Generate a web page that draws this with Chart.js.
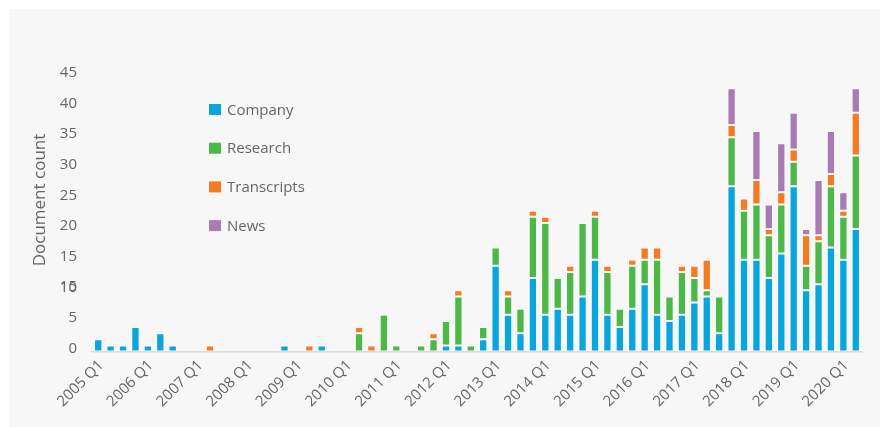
<!DOCTYPE html>
<html>
<head>
<meta charset="utf-8">
<script src="https://cdn.jsdelivr.net/npm/chart.js@4.4.1/dist/chart.umd.min.js"></script>
<style>
  html, body { margin: 0; padding: 0; background: #ffffff; }
  #panel { position: absolute; left: 9px; top: 9px; width: 871px; height: 418px; background: #f7f7f7; }
  canvas { display: block; }
</style>
</head>
<body>
<div id="panel"><canvas id="c" width="871" height="418"></canvas></div>
<script>
const years = [2005,2006,2007,2008,2009,2010,2011,2012,2013,2014,2015,2016,2017,2018,2019,2020];
const quarters = ['Q1','Q2','Q3','Q4'];
const categories = [];
years.forEach(y => quarters.forEach(q => { if (categories.length < 62) categories.push(y + ' ' + q); }));

const company = [2,1,1,4,1,3,1,0,0,0,0,0,0,0,0,1,0,0,1,0,
  0,0,0,0,0,0,0,0,1,1,0,2,14,6,3,12,6,7,6,9,
  15,6,4,7,11,6,5,6,8,9,3,27,15,15,12,16,27,10,11,17,
  15,20];
const research = [0,0,0,0,0,0,0,0,0,0,0,0,0,0,0,0,0,0,0,0,
  0,3,0,6,1,0,1,2,4,8,1,2,3,3,4,10,15,5,7,12,
  7,7,3,7,4,9,4,7,4,1,6,8,8,9,7,8,4,4,7,10,
  7,12];
const transcripts = [0,0,0,0,0,0,0,0,0,1,0,0,0,0,0,0,0,1,0,0,
  0,1,1,0,0,0,0,1,0,1,0,0,0,1,0,1,1,0,1,0,
  1,1,0,1,2,2,0,1,2,5,0,2,2,4,1,2,2,5,1,2,
  1,7];
const news = [0,0,0,0,0,0,0,0,0,0,0,0,0,0,0,0,0,0,0,0,
  0,0,0,0,0,0,0,0,0,0,0,0,0,0,0,0,0,0,0,0,
  0,0,0,0,0,0,0,0,0,0,0,6,0,8,4,8,6,1,9,7,
  3,4];
const seriesNames = ['Company','Research','Transcripts','News'];
const seriesColors = ['#09a6de','#4cb848','#f57a24','#a97bb5'];
const yTicks = [0,5,10,15,20,25,30,35,40,45];
const yTitle = 'Document count';

const FONT = '"Open Sans", "Noto Sans", sans-serif';
const TEXT = '#666666';

const overlay = {
  id: 'overlay',
  afterDraw(chart) {
    const ctx = chart.ctx;
    const ys = chart.scales.y;
    ctx.save();
    ctx.fillStyle = TEXT;
    ctx.font = '17px ' + FONT;
    ctx.textAlign = 'center';
    ctx.textBaseline = 'middle';
    ctx.translate(31, 191);
    ctx.rotate(-Math.PI / 2);
    ctx.fillText(yTitle, 0, 0);
    ctx.restore();

    // overlapped tick label as in the reference
    ctx.save();
    ctx.fillStyle = TEXT;
    ctx.font = '15px ' + FONT;
    ctx.textAlign = 'right';
    ctx.textBaseline = 'middle';
    ctx.fillText('15', ys.left + ys.width - 15, ys.getPixelForValue(10) - 4);
    ctx.restore();

    // legend
    ctx.save();
    chart.data.datasets.forEach((ds, i) => {
      const y = 95 + i * 38.7;
      ctx.fillStyle = ds.backgroundColor;
      ctx.fillRect(200, y, 12, 11);
      ctx.fillStyle = TEXT;
      ctx.font = '15px ' + FONT;
      ctx.textAlign = 'left';
      ctx.textBaseline = 'middle';
      ctx.fillText(ds.label, 218, y + 6.5);
    });
    ctx.restore();
  }
};

const seriesData = [company, research, transcripts, news];
new Chart(document.getElementById('c'), {
  type: 'bar',
  data: {
    labels: categories,
    datasets: seriesNames.map((n, i) => ({
      label: n,
      data: seriesData[i],
      backgroundColor: seriesColors[i],
      borderColor: 'rgba(255,255,255,0.45)',
      borderWidth: c => (c.raw ? 1 : 0),
      borderSkipped: false,
      categoryPercentage: 1,
      barPercentage: 0.67
    }))
  },
  options: {
    responsive: false,
    animation: false,
    layout: { padding: { top: 67, right: 18, left: 0, bottom: 0 } },
    plugins: { legend: { display: false }, tooltip: { enabled: false } },
    scales: {
      x: {
        stacked: true,
        grid: { display: false, drawTicks: false },
        border: { display: true, color: '#dcdcdc', width: 1.5 },
        ticks: {
          autoSkip: false,
          minRotation: 45,
          maxRotation: 45,
          padding: 5,
          labelOffset: 3,
          color: TEXT,
          font: { family: FONT, size: 15 },
          callback: function(v) { const l = this.getLabelForValue(v); return l.endsWith('Q1') ? l : ''; }
        },
        afterFit: s => { s.height = 75.5; }
      },
      y: {
        stacked: true,
        min: 0,
        max: 45,
        grid: { display: false, drawTicks: false },
        border: { display: false },
        afterBuildTicks: s => { s.ticks = yTicks.map(v => ({ value: v })); },
        ticks: {
          stepSize: 5,
          padding: 15,
          labelOffset: -3,
          color: TEXT,
          font: { family: FONT, size: 15 }
        },
        afterFit: s => { s.width = 83; }
      }
    }
  },
  plugins: [overlay]
});
</script>
</body>
</html>
